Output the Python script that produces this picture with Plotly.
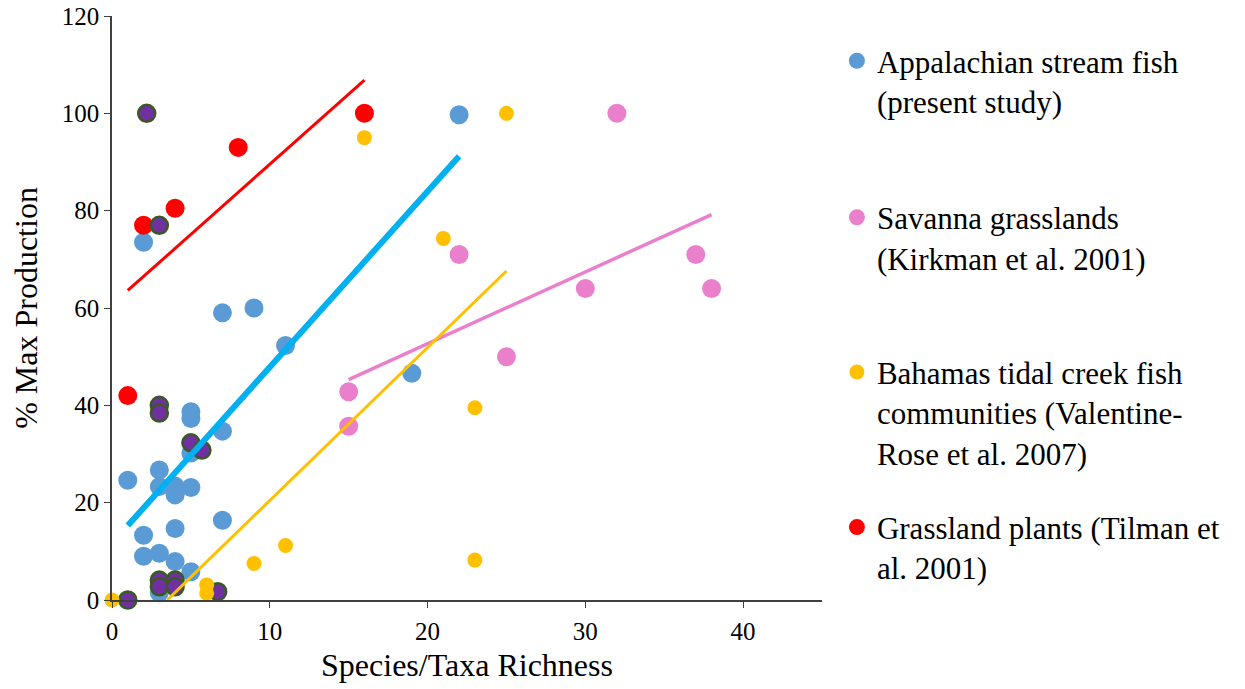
import plotly.graph_objects as go

# Appalachian stream fish (present study)
app_x = [1, 2, 2, 2, 3, 3, 3, 3, 4, 4, 4, 4, 5, 5, 5, 5, 5, 7, 7, 7, 9, 11, 19, 22]
app_y = [24.6, 73.5, 13.3, 9.0, 26.7, 23.3, 9.6, 1.5, 23.4, 21.6, 14.7, 7.9,
         38.7, 37.3, 30.2, 23.1, 5.8, 59.0, 34.7, 16.4, 60.0, 52.3, 46.6, 99.7]

# highlighted subset (purple, outlined; no legend entry)
hl_x = [2.2, 3, 3, 3, 5, 5.7, 3, 3, 4, 4, 6.7, 1]
hl_y = [100, 77.0, 40.0, 38.4, 32.3, 30.8, 4.1, 2.7, 4.1, 2.7, 1.7, 0]

# Savanna grasslands (Kirkman et al. 2001)
sav_x = [15, 15, 22, 25, 30, 32, 37, 38]
sav_y = [42.8, 35.7, 71.0, 50.0, 64.0, 100.0, 71.0, 64.0]

# Bahamas tidal creek fish communities (Valentine-Rose et al. 2007)
bah_x = [0, 6, 6, 9, 11, 16, 21, 23, 23, 25]
bah_y = [0, 3.1, 1.4, 7.5, 11.2, 95.0, 74.3, 39.5, 8.2, 100.0]

# Grassland plants (Tilman et al. 2001)
gra_x = [1, 2, 4, 8, 16]
gra_y = [42.0, 77.0, 80.5, 93.0, 100.0]

# Trend line end points
app_fit_x = [1, 22]
app_fit_y = [15.3, 91.2]
sav_fit_x = [15, 38]
sav_fit_y = [45.3, 79.2]
bah_fit_x = [3.5, 25]
bah_fit_y = [0.0, 67.6]
gra_fit_x = [1, 16]
gra_fit_y = [63.6, 106.8]

names = [
    "Appalachian stream fish<br>(present study)",
    "Savanna grasslands<br>(Kirkman et al. 2001)",
    "Bahamas tidal creek fish<br>communities (Valentine-<br>Rose et al. 2007)",
    "Grassland plants (Tilman et<br>al. 2001)",
]

BLUE = "#5B9BD5"
PINK = "#EA80CC"
YELLOW = "#FFC000"
RED = "#FF0000"
PURPLE = "#7030A0"
OUTLINE = "#3A5A24"
FONT = "Times New Roman, Liberation Serif, serif"

fig = go.Figure()

fig.add_trace(go.Scatter(x=app_x, y=app_y, mode="markers", name=names[0],
                         marker=dict(color=BLUE, size=19), legend="legend",
                         cliponaxis=False))
fig.add_trace(go.Scatter(x=gra_x, y=gra_y, mode="markers", name=names[3],
                         marker=dict(color=RED, size=19), legend="legend4",
                         cliponaxis=False))
fig.add_trace(go.Scatter(x=hl_x, y=hl_y, mode="markers", showlegend=False,
                         marker=dict(color=PURPLE, size=17,
                                     line=dict(color=OUTLINE, width=2.5)),
                         cliponaxis=False))
fig.add_trace(go.Scatter(x=sav_x, y=sav_y, mode="markers", name=names[1],
                         marker=dict(color=PINK, size=19), legend="legend2",
                         cliponaxis=False))
fig.add_trace(go.Scatter(x=bah_x, y=bah_y, mode="markers", name=names[2],
                         marker=dict(color=YELLOW, size=15), legend="legend3",
                         cliponaxis=False))

for fx, fy, col, w in [(app_fit_x, app_fit_y, "#00B0F0", 6),
                       (sav_fit_x, sav_fit_y, PINK, 3.5),
                       (bah_fit_x, bah_fit_y, YELLOW, 3),
                       (gra_fit_x, gra_fit_y, RED, 3)]:
    fig.add_trace(go.Scatter(x=fx, y=fy, mode="lines", showlegend=False,
                             line=dict(color=col, width=w), hoverinfo="skip",
                             cliponaxis=False))

leg_common = dict(font=dict(family=FONT, size=31, color="#000000"),
                  bgcolor="rgba(0,0,0,0)", xanchor="left", yanchor="top",
                  valign="top", itemsizing="trace")

fig.update_layout(
    width=1245, height=689,
    margin=dict(l=112, r=423, t=16, b=89, autoexpand=False),
    paper_bgcolor="white", plot_bgcolor="white",
    font=dict(family=FONT, color="#000000"),
    legend=dict(x=1.021, y=0.969, **leg_common),
    legend2=dict(x=1.021, y=0.701, **leg_common),
    legend3=dict(x=1.021, y=0.436, **leg_common),
    legend4=dict(x=1.021, y=0.1705, **leg_common),
    xaxis=dict(range=[0, 45], tickvals=[0, 10, 20, 30, 40], automargin=False,
               showgrid=False, zeroline=False, showline=True,
               linecolor="#404040", linewidth=1.5, ticks="outside",
               ticklen=6, tickcolor="#404040", ticklabelstandoff=2,
               tickfont=dict(family=FONT, size=25, color="#000000"),
               title=dict(text="Species/Taxa Richness", standoff=10,
                          font=dict(family=FONT, size=32, color="#000000"))),
    yaxis=dict(range=[0, 120], tickvals=[0, 20, 40, 60, 80, 100, 120],
               automargin=False,
               showgrid=False, zeroline=False, showline=True,
               linecolor="#404040", linewidth=1.5, ticks="outside",
               ticklen=6, tickcolor="#404040",
               tickfont=dict(family=FONT, size=25, color="#000000"),
               title=dict(text="% Max Production",
                          font=dict(family=FONT, size=32, color="#000000"))),
)

fig.write_html("out.html")
